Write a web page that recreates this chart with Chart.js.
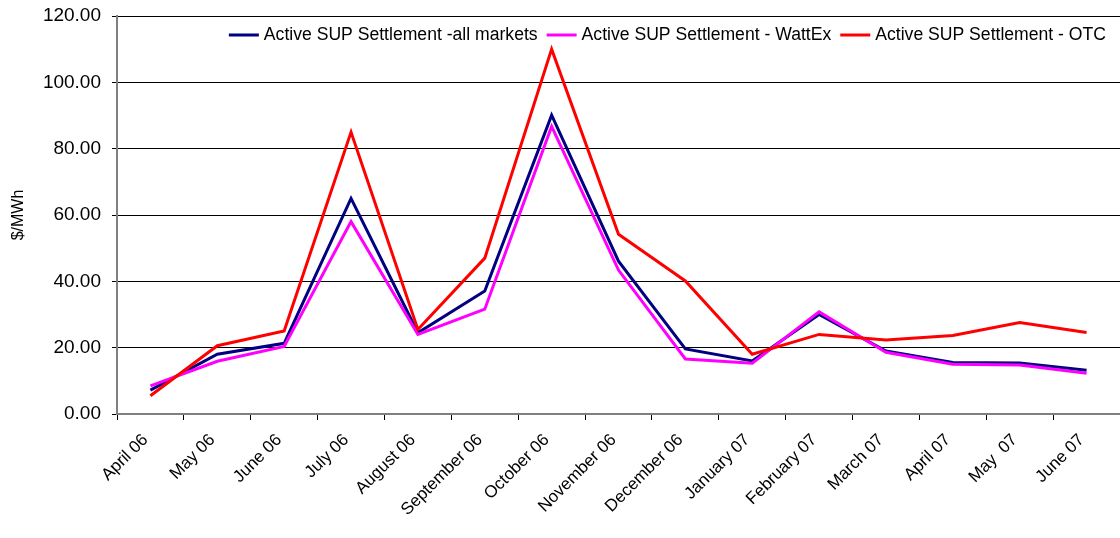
<!DOCTYPE html>
<html>
<head>
<meta charset="utf-8">
<script src="https://cdn.jsdelivr.net/npm/chart.js@4.4.0/dist/chart.umd.min.js"></script>
<style>
  html, body { margin: 0; padding: 0; background: #fff; }
  #wrap { width: 1120px; height: 538px; position: relative; }
</style>
</head>
<body>
<div id="wrap"><canvas id="c" width="1120" height="538"></canvas></div>
<script>
const months = ["April 06","May 06","June 06","July 06","August 06","September 06","October 06","November 06","December 06","January 07","February 07","March 07","April 07","May  07","June 07"];
const allMarkets = [7.2, 18.0, 21.3, 65.0, 24.5, 37.1, 90.1, 46.1, 19.6, 16.0, 30.0, 19.0, 15.5, 15.4, 13.2];
const wattEx     = [8.5, 15.9, 20.4, 58.0, 24.0, 31.6, 86.7, 43.4, 16.6, 15.3, 30.8, 18.6, 15.0, 14.8, 12.3];
const otc        = [5.5, 20.6, 25.0, 85.0, 25.5, 47.0, 110.0, 54.2, 40.1, 18.0, 24.0, 22.3, 23.7, 27.6, 24.6];
const yTicks = [0, 20, 40, 60, 80, 100, 120];

const FONT = "'Liberation Sans', Arial, sans-serif";

const insideLegend = {
  id: 'insideLegend',
  afterDraw(chart) {
    const ctx = chart.ctx;
    const area = chart.chartArea;
    ctx.save();
    ctx.font = "17.6px " + FONT;
    ctx.textBaseline = 'middle';
    ctx.textAlign = 'left';
    const lineW = 30, gap = 5, itemGap = 9;
    const items = chart.data.datasets.map(d => ({ text: d.label, color: d.borderColor, w: lineW + gap + ctx.measureText(d.label).width }));
    const total = items.reduce((s, it) => s + it.w, 0) + itemGap * (items.length - 1);
    let x = area.right - 14 - total;
    const y = area.top + 19;
    items.forEach(it => {
      ctx.strokeStyle = it.color;
      ctx.lineWidth = 3;
      ctx.beginPath();
      ctx.moveTo(x, y);
      ctx.lineTo(x + lineW, y);
      ctx.stroke();
      ctx.fillStyle = '#000';
      ctx.fillText(it.text, x + lineW + gap, y);
      x += it.w + itemGap;
    });
    ctx.restore();
  }
};

new Chart(document.getElementById('c'), {
  type: 'line',
  data: {
    labels: months,
    datasets: [
      { label: 'Active SUP Settlement -all markets', data: allMarkets, borderColor: '#000080', backgroundColor: '#000080', borderWidth: 3, pointRadius: 0, tension: 0, order: 3 },
      { label: 'Active SUP Settlement - WattEx', data: wattEx, borderColor: '#FF00FF', backgroundColor: '#FF00FF', borderWidth: 3, pointRadius: 0, tension: 0, order: 2 },
      { label: 'Active SUP Settlement - OTC', data: otc, borderColor: '#FF0000', backgroundColor: '#FF0000', borderWidth: 3, pointRadius: 0, tension: 0, order: 1 }
    ]
  },
  plugins: [insideLegend],
  options: {
    responsive: false,
    animation: false,
    layout: { padding: { top: 16, right: 0, left: 0, bottom: 0 } },
    plugins: {
      tooltip: { enabled: false },
      legend: { display: false }
    },
    scales: {
      x: {
        type: 'category',
        offset: true,
        grid: { offset: true, drawOnChartArea: false, drawTicks: true, tickLength: 6, color: '#000' },
        border: { color: '#808080', width: 2 },
        ticks: { font: { family: FONT, size: 17 }, color: '#000', maxRotation: 45, minRotation: 45, autoSkip: false, padding: 10, labelOffset: -5 },
        afterFit: (s) => { s.height = 124; s.paddingLeft = 0; s.paddingRight = 0; }
      },
      y: {
        min: 0, max: 120,
        afterBuildTicks: (s) => { s.ticks = yTicks.map(v => ({ value: v })); },
        ticks: { font: { family: FONT, size: 19 }, color: '#000', padding: 11, callback: (v) => Number(v).toFixed(2) },
        grid: { color: '#000', lineWidth: 1, tickLength: 5, drawTicks: true },
        border: { color: '#808080', width: 2 },
        title: { display: true, text: '$/MWh', font: { family: FONT, size: 16 }, color: '#000', padding: { top: 9, bottom: 0 } },
        afterFit: (s) => { s.width = 117; s.paddingTop = 0; s.paddingBottom = 0; }
      }
    }
  }
});
</script>
</body>
</html>
